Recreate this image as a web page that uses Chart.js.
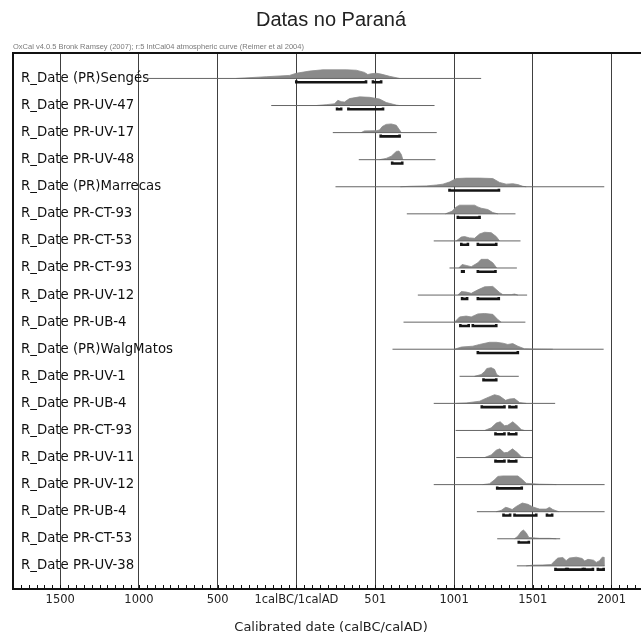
<!DOCTYPE html>
<html><head><meta charset="utf-8">
<script src="https://cdn.jsdelivr.net/npm/chart.js@4.4.1/dist/chart.umd.min.js"></script>
<style>html,body{margin:0;padding:0;background:#fff;overflow:hidden;width:641px;height:638px}canvas{display:block}</style>
</head><body><canvas id="c" width="662" height="638"></canvas>
<script>
const chartTitle = 'Datas no Paraná';
const headerText = 'OxCal v4.0.5 Bronk Ramsey (2007); r:5 IntCal04 atmospheric curve (Reimer et al 2004)';
const axisTitle = 'Calibrated date (calBC/calAD)';

const sampleLabels = [
  'R_Date (PR)Sengés','R_Date PR-UV-47','R_Date PR-UV-17','R_Date PR-UV-48','R_Date (PR)Marrecas',
  'R_Date PR-CT-93','R_Date PR-CT-53','R_Date PR-CT-93','R_Date PR-UV-12','R_Date PR-UB-4',
  'R_Date (PR)WalgMatos','R_Date PR-UV-1','R_Date PR-UB-4','R_Date PR-CT-93','R_Date PR-UV-11',
  'R_Date PR-UV-12','R_Date PR-UB-4','R_Date PR-CT-53','R_Date PR-UV-38'
];

const xTickValues = [-1500, -1000, -500, 0, 501, 1001, 1501, 2001];
const xTickLabels = ['1500', '1000', '500', '1calBC/1calAD', '501', '1001', '1501', '2001'];

// full extent of each likelihood (thin line)
const rangeStart = [-960, -160, 231, 396, 248, 701, 872, 972, 771, 680, 610, 1036, 872, 1011, 1015, 872, 1146, 1275, 1400];
const rangeEnd   = [1173, 877, 891, 883, 1955, 1391, 1423, 1400, 1465, 1454, 1951, 1412, 1643, 1497, 1497, 1957, 1957, 1675, 1957];

// probability curves: [calendar year, relative density]
const densityCurves = [
  [[-382,0],[-192,0.2],[-44,0.35],[-1,0.6],[83,0.85],[168,1],[316,1],[380,0.95],[432,0.7],[453,0.45],[475,0.55],[507,0.6],[538,0.5],[591,0.25],[655,0]],
  [[126,0],[189,0.1],[242,0.2],[263,0.6],[284,0.45],[305,0.4],[337,0.8],[401,1],[464,0.95],[528,0.75],[570,0.35],[634,0.05],[655,0]],
  [[411,0],[432,0.2],[507,0.22],[528,0.3],[545,0.7],[570,0.95],[602,1],[634,0.85],[655,0.3],[666,0]],
  [[528,0],[570,0.15],[602,0.4],[634,0.95],[651,1],[666,0.6],[676,0]],
  [[660,0],[718,0.05],[824,0.1],[888,0.2],[930,0.3],[972,0.55],[1015,0.95],[1078,1],[1163,1],[1247,0.95],[1290,0.5],[1332,0.3],[1374,0.35],[1406,0.25],[1438,0.05],[1459,0]],
  [[946,0],[988,0.3],[1015,0.8],[1036,1],[1131,1],[1152,0.8],[1173,0.65],[1215,0.5],[1247,0.15],[1279,0]],
  [[1015,0],[1047,0.45],[1068,0.5],[1099,0.35],[1131,0.3],[1163,0.8],[1195,1],[1237,0.95],[1269,0.5],[1290,0]],
  [[1031,0],[1052,0.4],[1078,0.3],[1110,0.15],[1152,0.6],[1173,1],[1215,1],[1247,0.6],[1272,0]],
  [[1025,0],[1047,0.4],[1078,0.35],[1110,0.2],[1152,0.6],[1195,0.95],[1247,1],[1290,0.3],[1311,0.05],[1364,0.05],[1385,0.12],[1406,0]],
  [[1004,0],[1036,0.6],[1078,0.7],[1110,0.6],[1152,0.95],[1195,1],[1247,0.9],[1279,0.3],[1300,0]],
  [[1004,0],[1047,0.25],[1120,0.35],[1163,0.55],[1226,0.8],[1269,0.8],[1311,0.7],[1342,0.55],[1374,0.65],[1406,0.35],[1448,0.05],[1501,0.02],[1628,0]],
  [[1131,0],[1173,0.2],[1195,0.55],[1209,0.9],[1237,1],[1258,0.8],[1272,0.2],[1290,0]],
  [[1015,0],[1078,0.05],[1163,0.25],[1205,0.6],[1258,1],[1290,0.85],[1328,0.35],[1353,0.5],[1385,0.55],[1417,0.1],[1459,0]],
  [[1195,0],[1237,0.3],[1269,0.85],[1294,1],[1321,0.55],[1342,0.6],[1374,1],[1400,0.6],[1428,0.1],[1448,0]],
  [[1195,0],[1237,0.3],[1269,0.85],[1292,1],[1319,0.55],[1342,0.6],[1372,1],[1400,0.6],[1428,0.1],[1448,0]],
  [[1183,0],[1226,0.1],[1258,0.55],[1279,0.95],[1311,1],[1406,1],[1434,0.6],[1459,0.15],[1544,0.05],[1628,0.02],[1650,0]],
  [[1269,0],[1300,0.15],[1328,0.5],[1342,0.45],[1370,0.25],[1396,0.6],[1434,1],[1470,0.85],[1501,0.55],[1544,0.3],[1586,0.3],[1607,0.5],[1628,0.25],[1666,0]],
  [[1385,0],[1406,0.3],[1428,0.85],[1442,1],[1459,0.7],[1476,0.15],[1544,0.05],[1607,0.05],[1650,0]],
  [[1459,0],[1501,0.08],[1565,0.1],[1618,0.15],[1639,0.55],[1660,0.9],[1692,0.95],[1713,0.6],[1734,0.9],[1777,1],[1815,0.85],[1830,0.55],[1851,0.75],[1887,0.65],[1904,0.4],[1925,0.6],[1942,1],[1951,1],[1953,0]]
];

// highest posterior density ranges (black bars under each curve)
const hpdRanges = [
  [[-1,442],[486,538]],
  [[258,284],[330,550]],
  [[535,655]],
  [[608,672]],
  [[972,1286]],
  [[1025,1163]],
  [[1047,1089],[1152,1269]],
  [[1052,1062],[1152,1264]],
  [[1052,1084],[1152,1285]],
  [[1041,1094],[1120,1269]],
  [[1152,1406]],
  [[1188,1269]],
  [[1177,1321],[1353,1396]],
  [[1264,1321],[1348,1396]],
  [[1264,1321],[1348,1396]],
  [[1275,1431]],
  [[1315,1357],[1385,1523],[1591,1624]],
  [[1412,1476]],
  [[1645,1713],[1723,1819],[1830,1883],[1914,1951]]
];

// ---- styling ----
const CURVE_H = 0.32;
const FILL = '#8a8a8a';
const datasets = [];
sampleLabels.forEach((lab, r) => {
  hpdRanges[r].forEach(([a, b]) => {
    datasets.push({
      data: [{x:a, y:r+0.07}, {x:a, y:r+0.14}, {x:b, y:r+0.14}, {x:b, y:r+0.07}],
      borderColor: '#151515', borderWidth: 2.6, pointRadius: 0, fill: false, tension: 0,
      borderCapStyle: 'butt', borderJoinStyle: 'miter'
    });
  });
  datasets.push({
    data: [{x: rangeStart[r], y: r}, {x: rangeEnd[r], y: r}],
    borderColor: '#666666', borderWidth: 1, pointRadius: 0, fill: false
  });
  datasets.push({
    data: densityCurves[r].map(([x, v]) => ({x: x, y: r - v * CURVE_H})),
    borderColor: FILL, backgroundColor: FILL, borderWidth: 0.8, pointRadius: 0,
    fill: {value: r}, tension: 0
  });
});

const framePlugin = {
  id: 'frame',
  afterDatasetsDraw(chart) {
    const {ctx, chartArea: {left, top, right, bottom}, scales: {x}} = chart;
    ctx.save();
    ctx.strokeStyle = '#111';
    ctx.lineWidth = 2;
    ctx.strokeRect(left, top, right - left, bottom - top);
    ctx.lineWidth = 1;
    ctx.beginPath();
    for (let yr = -1800; yr <= 2200; yr += 50) {
      const px = Math.round(x.getPixelForValue(yr)) + 0.5;
      if (px < left || px > right) continue;
      ctx.moveTo(px, bottom);
      ctx.lineTo(px, bottom - 4);
    }
    ctx.stroke();
    ctx.restore();
  }
};

new Chart(document.getElementById('c'), {
  type: 'line',
  data: {datasets},
  options: {
    responsive: false,
    animation: false,
    events: [],
    layout: {padding: {left: 13, right: 13, top: 0, bottom: 0}},
    plugins: {
      legend: {display: false},
      tooltip: {enabled: false},
      title: {display: true, text: chartTitle, color: '#222',
        font: {family: 'Liberation Sans', size: 20, weight: 'normal'},
        padding: {top: 8, bottom: 10.5}},
      subtitle: {display: true, text: headerText, align: 'start', color: '#7a7a7a',
        font: {family: 'Liberation Sans', size: 7.5, weight: 'normal'},
        padding: {top: 0, bottom: 1.5}}
    },
    scales: {
      x: {
        type: 'linear', min: -1800, max: 2239,
        afterBuildTicks: (s) => { s.ticks = xTickValues.map(v => ({value: v})); },
        ticks: {
          callback: (v) => xTickLabels[xTickValues.indexOf(v)],
          autoSkip: false, maxRotation: 0, padding: 4, color: '#222',
          font: {family: 'DejaVu Sans', size: 11.5}
        },
        grid: {color: '#404040', lineWidth: 1, drawTicks: false},
        border: {display: false},
        title: {display: true, text: axisTitle, color: '#222',
          font: {family: 'DejaVu Sans', size: 13}, padding: {top: 8.6, bottom: 3}}
      },
      y: {
        type: 'linear', reverse: true, min: -0.94, max: 18.855,
        afterBuildTicks: (s) => { s.ticks = sampleLabels.map((_, i) => ({value: i})); },
        afterFit: (s) => { s.width = 0; },
        ticks: {
          callback: (v) => sampleLabels[v],
          mirror: true, padding: 8, autoSkip: false, color: '#111',
          font: {family: 'DejaVu Sans', size: 13.3}
        },
        grid: {display: false},
        border: {display: false}
      }
    }
  },
  plugins: [framePlugin]
});
</script>
</body></html>
